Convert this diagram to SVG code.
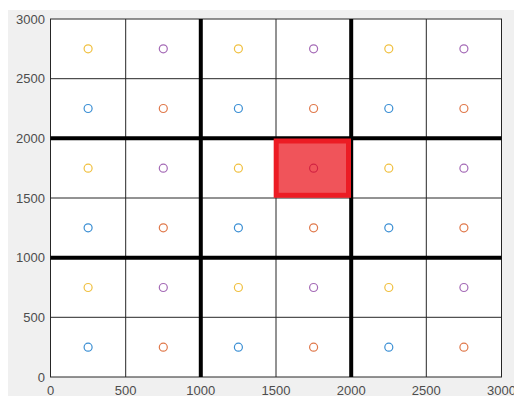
<svg xmlns="http://www.w3.org/2000/svg" width="514" height="396" viewBox="0 0 514 396">
<style>
.lbl{font-family:"Liberation Sans",Arial,sans-serif;font-size:13px;fill:#4d4d4d}
.grid{stroke:#262626;stroke-width:1}
.thick{stroke:#000;stroke-width:4}
.m{fill:none;stroke-width:1.2}
.b{stroke:#3b8fd4}.o{stroke:#e0784a}.y{stroke:#f0c040}.p{stroke:#a46ab6}
</style>
<rect x="0" y="0" width="514" height="396" fill="#ffffff"/>
<rect x="8" y="10" width="506" height="386" fill="#f0f0f0"/>
<rect id="axes" x="50.5" y="19" width="451" height="358" fill="#ffffff" stroke="#262626" stroke-width="1"/>
<g id="gridlines">
<line class="grid" x1="125.7" y1="19" x2="125.7" y2="377"/>
<line class="grid" x1="276" y1="19" x2="276" y2="377"/>
<line class="grid" x1="426.3" y1="19" x2="426.3" y2="377"/>
<line class="grid" x1="50.5" y1="78.7" x2="501.5" y2="78.7"/>
<line class="grid" x1="50.5" y1="198" x2="501.5" y2="198"/>
<line class="grid" x1="50.5" y1="317.3" x2="501.5" y2="317.3"/>
<line class="thick" x1="200.8" y1="19" x2="200.8" y2="377"/>
<line class="thick" x1="351.2" y1="19" x2="351.2" y2="377"/>
<line class="thick" x1="50.5" y1="138.3" x2="501.5" y2="138.3"/>
<line class="thick" x1="50.5" y1="257.7" x2="501.5" y2="257.7"/>
</g>
<g id="markers">
<circle class="m y" cx="88.1" cy="48.8" r="4"/><circle class="m p" cx="163.3" cy="48.8" r="4"/><circle class="m y" cx="238.4" cy="48.8" r="4"/><circle class="m p" cx="313.6" cy="48.8" r="4"/><circle class="m y" cx="388.8" cy="48.8" r="4"/><circle class="m p" cx="463.9" cy="48.8" r="4"/>
<circle class="m b" cx="88.1" cy="108.5" r="4"/><circle class="m o" cx="163.3" cy="108.5" r="4"/><circle class="m b" cx="238.4" cy="108.5" r="4"/><circle class="m o" cx="313.6" cy="108.5" r="4"/><circle class="m b" cx="388.8" cy="108.5" r="4"/><circle class="m o" cx="463.9" cy="108.5" r="4"/>
<circle class="m y" cx="88.1" cy="168.2" r="4"/><circle class="m p" cx="163.3" cy="168.2" r="4"/><circle class="m y" cx="238.4" cy="168.2" r="4"/><circle class="m p" cx="313.6" cy="168.2" r="4"/><circle class="m y" cx="388.8" cy="168.2" r="4"/><circle class="m p" cx="463.9" cy="168.2" r="4"/>
<circle class="m b" cx="88.1" cy="227.8" r="4"/><circle class="m o" cx="163.3" cy="227.8" r="4"/><circle class="m b" cx="238.4" cy="227.8" r="4"/><circle class="m o" cx="313.6" cy="227.8" r="4"/><circle class="m b" cx="388.8" cy="227.8" r="4"/><circle class="m o" cx="463.9" cy="227.8" r="4"/>
<circle class="m y" cx="88.1" cy="287.5" r="4"/><circle class="m p" cx="163.3" cy="287.5" r="4"/><circle class="m y" cx="238.4" cy="287.5" r="4"/><circle class="m p" cx="313.6" cy="287.5" r="4"/><circle class="m y" cx="388.8" cy="287.5" r="4"/><circle class="m p" cx="463.9" cy="287.5" r="4"/>
<circle class="m b" cx="88.1" cy="347.2" r="4"/><circle class="m o" cx="163.3" cy="347.2" r="4"/><circle class="m b" cx="238.4" cy="347.2" r="4"/><circle class="m o" cx="313.6" cy="347.2" r="4"/><circle class="m b" cx="388.8" cy="347.2" r="4"/><circle class="m o" cx="463.9" cy="347.2" r="4"/>
</g>
<rect id="highlight" x="276.2" y="141" width="72.3" height="54.3" fill="#e90009" fill-opacity="0.67" stroke="#ec1c24" stroke-width="5"/>
<g id="ylabels" class="lbl" text-anchor="end">
<text x="45" y="23.7">3000</text>
<text x="45" y="83.4">2500</text>
<text x="45" y="143">2000</text>
<text x="45" y="202.7">1500</text>
<text x="45" y="262.4">1000</text>
<text x="45" y="322">500</text>
<text x="45" y="381.7">0</text>
</g>
<g id="xlabels" class="lbl" text-anchor="middle">
<text x="50.5" y="394.5">0</text>
<text x="125.7" y="394.5">500</text>
<text x="200.8" y="394.5">1000</text>
<text x="276" y="394.5">1500</text>
<text x="351.2" y="394.5">2000</text>
<text x="426.3" y="394.5">2500</text>
<text x="501.5" y="394.5">3000</text>
</g>
</svg>
